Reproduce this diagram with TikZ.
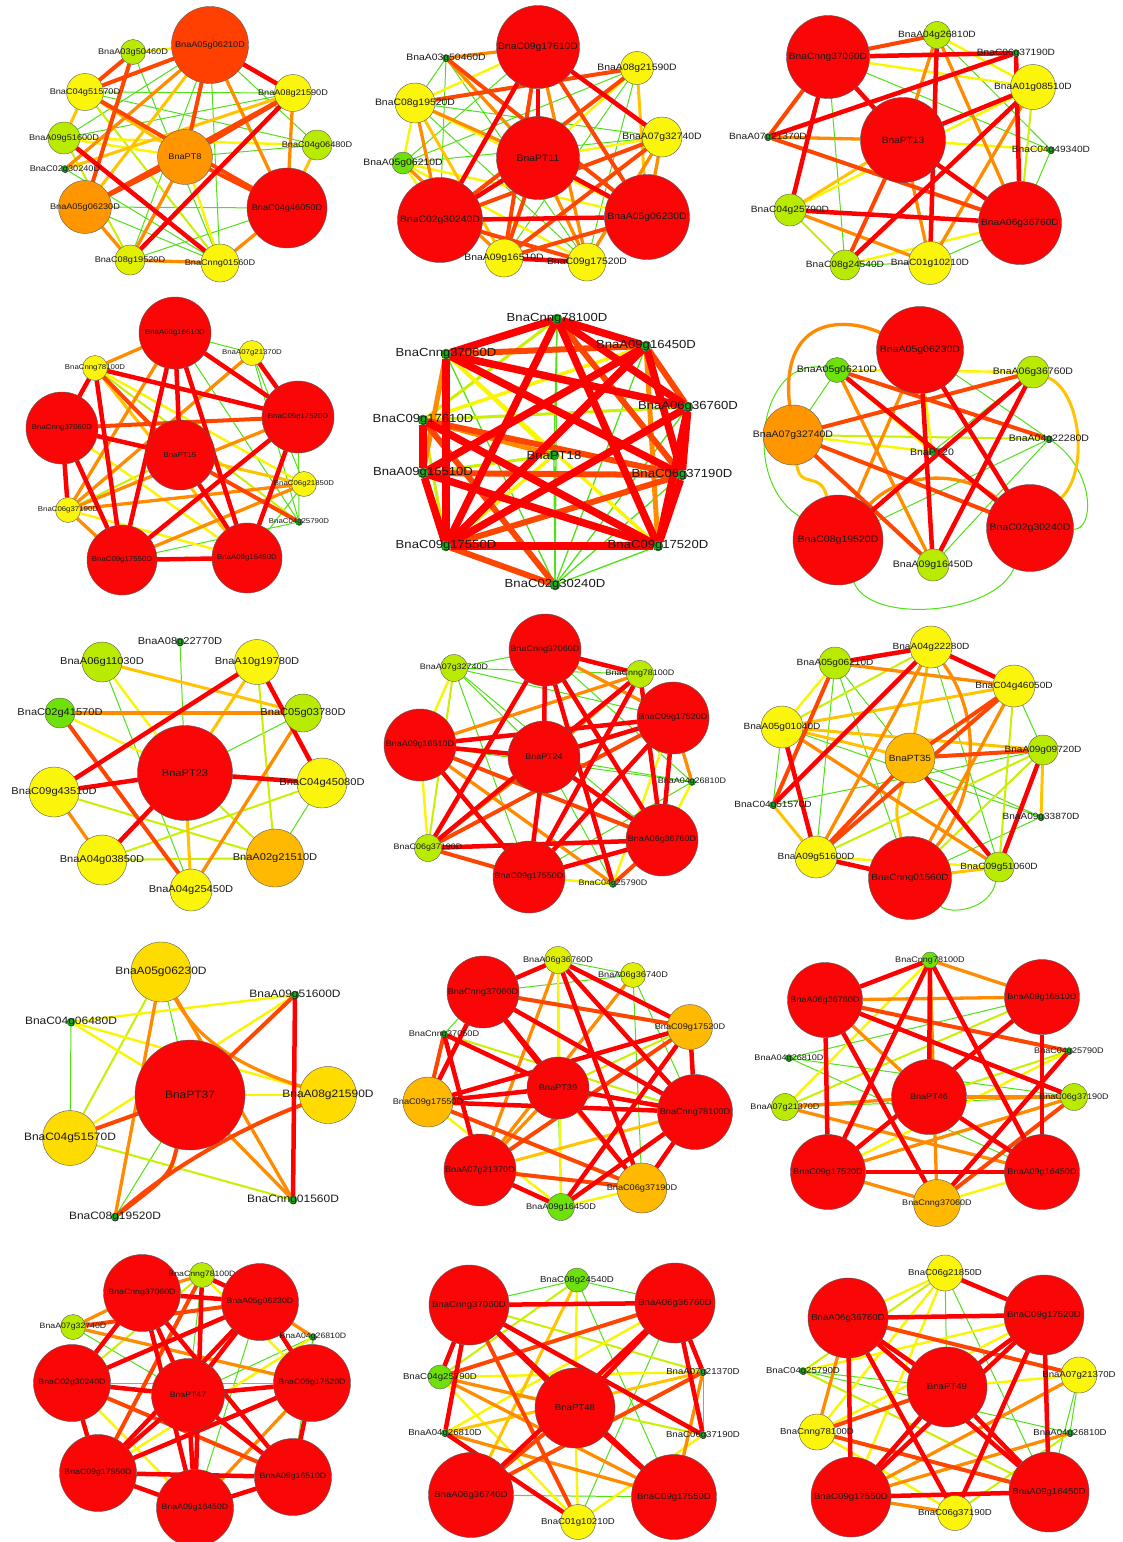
\documentclass[tikz,border=0pt]{standalone}
\usepackage{fontspec}
\setmainfont{Liberation Sans}[FakeStretch=1.12]
\pgfdeclarelayer{bg}
\pgfdeclarelayer{edges}
\pgfsetlayers{bg,edges,main}
% node colours
\definecolor{cRed}{RGB}{250,6,6}
\definecolor{cRedOr}{RGB}{255,64,0}
\definecolor{cOrange}{RGB}{255,150,0}
\definecolor{cAmber}{RGB}{255,185,0}
\definecolor{cGold}{RGB}{255,220,0}
\definecolor{cYellow}{RGB}{250,245,10}
\definecolor{cLemon}{RGB}{225,240,0}
\definecolor{cLime}{RGB}{185,235,0}
\definecolor{cGreen}{RGB}{110,225,10}
\definecolor{cDot}{RGB}{20,175,20}
% edge colours
\definecolor{eRed}{RGB}{255,0,0}
\definecolor{eOrRed}{RGB}{255,70,0}
\definecolor{eOrange}{RGB}{255,140,0}
\definecolor{eAmber}{RGB}{255,195,0}
\definecolor{eYellow}{RGB}{250,245,0}
\definecolor{eYG}{RGB}{200,240,0}
\definecolor{eGreen}{RGB}{80,225,20}
\newcommand{\lblsize}[1]{\fontsize{#1}{#1}\selectfont}
\tikzset{
  gene/.style={circle, draw=black!65, line width=0.4pt, inner sep=0pt, outer sep=0pt},
  nRed/.style={fill=cRed}, nRedOr/.style={fill=cRedOr}, nOrange/.style={fill=cOrange},
  nAmber/.style={fill=cAmber}, nGold/.style={fill=cGold}, nYellow/.style={fill=cYellow},
  nLemon/.style={fill=cLemon}, nLime/.style={fill=cLime}, nGreen/.style={fill=cGreen},
  nDot/.style={fill=cDot, draw=black!70},
  lbl/.style={inner sep=0pt, text=black!90, font=\lblsize{8}},
  er/.style={draw=eRed, line width=4.5pt},
  eorr/.style={draw=eOrRed, line width=4pt},
  eor/.style={draw=eOrange, line width=3.3pt},
  eam/.style={draw=eAmber, line width=3pt},
  ey/.style={draw=eYellow, line width=2.4pt},
  eyg/.style={draw=eYG, line width=2pt},
  eg/.style={draw=eGreen, line width=1pt},
}
\newcommand{\gene}[5]{\node[gene,#4,minimum size=#3pt] (#1) at (#2) {};
  \node[lbl] (#1t) at (#1.center) {#5};}
\newcommand{\links}[2]{\foreach \p/\q in {#2} \draw[#1] (\p) -- (\q);}

\begin{document}
\begin{tikzpicture}[x=1pt,y=-1pt]
\useasboundingbox (0,0) rectangle (1123,1542);
\begin{pgfonlayer}{bg}
\fill[white] (0,0) rectangle (1123,1542);
\end{pgfonlayer}

% BnaPT8
\begin{scope}[lbl/.append style={font=\lblsize{8.2}}]
\gene{a0}{185,157}{55}{nOrange}{BnaPT8}
\gene{a1}{210,45}{77}{nRedOr}{BnaA05g06210D}
\gene{a2}{133,52}{25}{nLime}{BnaA03g50460D}
\gene{a3}{85,92}{37}{nYellow}{BnaC04g51570D}
\gene{a4}{293,93}{37}{nYellow}{BnaA08g21590D}
\gene{a5}{64,138}{32}{nLime}{BnaA09g51600D}
\gene{a6}{317,145}{30}{nLime}{BnaC04g06480D}
\gene{a7}{65,169}{7}{nDot}{BnaC02g30240D}
\gene{a8}{85,207}{53}{nOrange}{BnaA05g06230D}
\gene{a9}{287,208}{80}{nRed}{BnaC04g46050D}
\gene{a10}{130,260}{30}{nLemon}{BnaC08g19520D}
\gene{a11}{220,263}{38}{nYellow}{BnaCnng01560D}
\begin{pgfonlayer}{edges}
\links{eg}{a1/a5, a1/a6, a1/a10, a3/a6, a2/a11, a1/a11, a10/a9, a3/a4, a8/a9, a8/a11, a5/a4, a7/a11, a0/a6}
\links{eyg}{a3/a11, a10/a5}
\links{ey}{a0/a11, a5/a6, a1/a2, a5/a0}
\links{eam}{a6/a9, a1/a8, a4/a7, a3/a5, a0/a3}
\links{eor}{a1/a9, a4/a9, a0/a10, a10/a11, a8/a10, a9/a11, a1/a7}
\links{eorr}{a1/a0, a3/a9, a4/a0, a4/a8, a1/a3, a2/a8, a0/a9, a0/a8, a2/a3}
\links{er}{a1/a4, a5/a11, a4/a10}
\end{pgfonlayer}
\end{scope}

% BnaPT11
\begin{scope}[lbl/.append style={font=\lblsize{9.3}}]
\gene{b0}{538,158}{83}{nRed}{BnaPT11}
\gene{b1}{538,47}{83}{nRed}{BnaC09g17610D}
\gene{b2}{446,58}{7}{nDot}{BnaA03g50460D}
\gene{b3}{637,68}{33}{nYellow}{BnaA08g21590D}
\gene{b4}{415,103}{40}{nYellow}{BnaC08g19520D}
\gene{b5}{662,137}{40}{nYellow}{BnaA07g32740D}
\gene{b6}{403,163}{22}{nGreen}{BnaA05g06210D}
\gene{b7}{440,220}{85}{nRed}{BnaC02g30240D}
\gene{b8}{647,217}{85}{nRed}{BnaA05g06230D}
\gene{b9}{504,258}{38}{nYellow}{BnaA09g16510D}
\gene{b10}{587,262}{38}{nYellow}{BnaC09g17520D}
\begin{pgfonlayer}{edges}
\links{eg}{b2/b7, b2/b10, b4/b10, b6/b3, b3/b9, b3/b10, b4/b5, b2/b4, b1/b6, b5/b6}
\links{ey}{b4/b1, b4/b6, b6/b7, b5/b0, b6/b8, b3/b0, b4/b8, b6/b10}
\links{eam}{b3/b8, b4/b9}
\links{eor}{b2/b0, b2/b1, b5/b10, b5/b8, b4/b0, b1/b10, b0/b10, b4/b7, b6/b9}
\links{eorr}{b1/b8, b3/b7, b3/b4, b2/b8, b5/b7, b5/b9, b7/b10, b8/b9, b0/b9, b1/b9}
\links{er}{b7/b8, b9/b10, b1/b7, b1/b5, b0/b7, b0/b8, b1/b0}
\end{pgfonlayer}
\end{scope}

% BnaPT13
\begin{scope}[lbl/.append style={font=\lblsize{9.1}}]
\gene{c0}{903,140}{85}{nRed}{BnaPT13}
\gene{c1}{828,57}{83}{nRed}{BnaCnng37060D}
\gene{c2}{937,35}{27}{nLime}{BnaA04g26810D}
\gene{c3}{1016,53}{7}{nDot}{BnaC06g37190D}
\gene{c4}{1033,87}{45}{nYellow}{BnaA01g08510D}
\gene{c5}{768,137}{7}{nDot}{BnaA07g21370D}
\gene{c6}{1051,150}{7}{nDot}{BnaC04g49340D}
\gene{c7}{790,210}{32}{nLime}{BnaC04g25790D}
\gene{c8}{1020,223}{83}{nRed}{BnaA06g36760D}
\gene{c9}{845,265}{30}{nLime}{BnaC08g24540D}
\gene{c10}{930,263}{43}{nYellow}{BnaC01g10210D}
\begin{pgfonlayer}{edges}
\links{eg}{c1/c6, c2/c6, c6/c8, c1/c9, c9/c10, c10/c8}
\links{eyg}{c7/c9, c4/c8}
\links{ey}{c6/c0, c1/c4, c2/c4, c4/c7, c9/c8}
\links{eam}{c7/c0}
\links{eor}{c5/c0, c7/c10, c4/c10, c2/c8, c2/c0, c0/c10}
\links{eorr}{c1/c2, c5/c1, c5/c8, c0/c9}
\links{er}{c1/c3, c3/c8, c5/c3, c1/c7, c1/c0, c7/c8, c4/c0, c4/c9, c2/c10, c0/c8}
\end{pgfonlayer}
\end{scope}

% BnaPT15
\begin{scope}[lbl/.append style={font=\lblsize{7}}]
\gene{d0}{180,455}{70}{nRed}{BnaPT15}
\gene{d1}{175,333}{72}{nRed}{BnaA09g16510D}
\gene{d2}{252,353}{25}{nYellow}{BnaA07g21370D}
\gene{d3}{95,368}{25}{nYellow}{BnaCnng78100D}
\gene{d4}{62,428}{72}{nRed}{BnaCnng37060D}
\gene{d5}{298,417}{72}{nRed}{BnaC09g17520D}
\gene{d6}{304,484}{25}{nYellow}{BnaC06g21850D}
\gene{d7}{68,510}{25}{nYellow}{BnaC06g37190D}
\gene{d8}{299,522}{7}{nDot}{BnaC04g25790D}
\gene{d9}{122,560}{70}{nRed}{BnaC09g17550D}
\gene{d10}{247,558}{70}{nRed}{BnaA09g16450D}
\begin{pgfonlayer}{edges}
\links{eg}{d1/d2, d2/d8, d1/d8, d5/d8, d9/d8, d6/d10, d2/d6}
\links{eyg}{d3/d8, d7/d0}
\links{ey}{d3/d6, d4/d10, d7/d10, d0/d6}
\links{eam}{d4/d6, d3/d10}
\links{eor}{d3/d1, d7/d5, d7/d2, d7/d6, d7/d1, d9/d6, d7/d9}
\links{eorr}{d0/d8, d3/d0, d4/d5}
\links{er}{d9/d10, d9/d5, d3/d5, d1/d5, d4/d7, d4/d9, d3/d9, d1/d0, d1/d9, d0/d4, d0/d10, d5/d10, d2/d5, d1/d10, d4/d3}
\end{pgfonlayer}
\end{scope}

% BnaPT18
\begin{scope}[lbl/.append style={font=\lblsize{11.7}},
  er/.style={draw=eRed, line width=7.5pt}, eorr/.style={draw=eOrRed, line width=6pt},
  eor/.style={draw=eOrange, line width=5pt}, ey/.style={draw=eYellow, line width=3.5pt},
  eyg/.style={draw=eYG, line width=3pt}, eg/.style={draw=eGreen, line width=1.3pt}]
\gene{e0}{554,455}{10}{nDot}{BnaPT18}
\gene{e1}{557,319}{10}{nDot}{BnaCnng78100D}
\gene{e2}{646,346}{10}{nDot}{BnaA09g16450D}
\gene{e3}{446,354}{10}{nDot}{BnaCnng37060D}
\gene{e4}{688,407}{10}{nDot}{BnaA06g36760D}
\gene{e5}{423,420}{10}{nDot}{BnaC09g17610D}
\gene{e6}{423,473}{10}{nDot}{BnaA09g16510D}
\gene{e7}{682,475}{10}{nDot}{BnaC06g37190D}
\gene{e8}{446,546}{10}{nDot}{BnaC09g17550D}
\gene{e9}{658,546}{10}{nDot}{BnaC09g17520D}
\gene{e10}{555,585}{10}{nDot}{BnaC02g30240D}
\begin{pgfonlayer}{edges}
\links{eg}{e1/e10, e0/e10, e3/e10, e4/e10, e7/e10, e2/e10, e9/e10, e1/e0}
\links{eyg}{e1/e5, e5/e4, e6/e0, e5/e8}
\links{ey}{e3/e9, e0/e8, e3/e0, e2/e5}
\links{eor}{e5/e0, e3/e6, e2/e9}
\links{eorr}{e2/e4, e7/e8, e8/e10, e5/e10, e6/e7, e3/e2, e1/e7, e5/e7}
\links{er}{e1/e3, e1/e2, e1/e8, e1/e4, e1/e9, e2/e8, e2/e6, e3/e4, e3/e8, e4/e7, e4/e8, e4/e9, e7/e9, e8/e9, e6/e8, e5/e9, e6/e9, e2/e7, e3/e7, e5/e6}
\end{pgfonlayer}
\end{scope}

% BnaPT20
\begin{scope}[lbl/.append style={font=\lblsize{9.4}}]
\gene{f0}{932,452}{7}{nDot}{BnaPT20}
\gene{f1}{920,350}{87}{nRed}{BnaA05g06230D}
\gene{f2}{837,370}{25}{nGreen}{BnaA05g06210D}
\gene{f3}{1033,372}{32}{nLime}{BnaA06g36760D}
\gene{f4}{793,435}{60}{nOrange}{BnaA07g32740D}
\gene{f5}{1049,439}{7}{nDot}{BnaA04g22280D}
\gene{f6}{838,540}{90}{nRed}{BnaC08g19520D}
\gene{f7}{1030,528}{87}{nRed}{BnaC02g30240D}
\gene{f8}{933,565}{32}{nLime}{BnaA09g16450D}
\begin{pgfonlayer}{edges}
\links{eg}{f3/f4, f3/f0, f5/f8, f1/f5, f2/f4, f5/f6}
\draw[eg] (f2) .. controls (760,355) and (740,480) .. (f6);
\draw[eg] (f5) .. controls (1095,470) and (1095,530) .. (f7);
\draw[eg] (f6) .. controls (870,625) and (995,615) .. (f7);
\links{eyg}{f4/f5, f6/f3}
\links{ey}{f2/f0, f1/f0, f2/f3, f2/f8, f4/f0}
\draw[eam] (f3) .. controls (1080,390) and (1090,470) .. (f7);
\draw[eam] (f4) .. controls (800,490) and (820,470) .. (f6);
\links{eor}{f1/f6, f2/f8}
\draw[eor] (f4) .. controls (780,320) and (840,315) .. (f1);
\draw[eor] (f6) .. controls (900,470) and (965,470) .. (f7);
\links{eorr}{f4/f7, f4/f3, f2/f5, f4/f8}
\links{er}{f1/f8, f3/f8, f3/f6, f1/f7, f2/f7}
\end{pgfonlayer}
\end{scope}

% BnaPT23
\begin{scope}[lbl/.append style={font=\lblsize{9.9}}]
\gene{g0}{185,773}{95}{nRed}{BnaPT23}
\gene{g1}{180,642}{8}{nDot}{BnaA08g22770D}
\gene{g2}{102,662}{40}{nLime}{BnaA06g11030D}
\gene{g3}{257,662}{45}{nYellow}{BnaA10g19780D}
\gene{g4}{60,713}{30}{nGreen}{BnaC02g41570D}
\gene{g5}{303,713}{38}{nLime}{BnaC05g03780D}
\gene{g6}{54,792}{50}{nYellow}{BnaC09g43510D}
\gene{g7}{322,783}{50}{nYellow}{BnaC04g45080D}
\gene{g8}{102,860}{50}{nYellow}{BnaA04g03850D}
\gene{g9}{275,858}{58}{nAmber}{BnaA02g21510D}
\gene{g10}{191,890}{42}{nYellow}{BnaA04g25450D}
\begin{pgfonlayer}{edges}
\links{eg}{g1/g0, g5/g0, g7/g9, g2/g10}
\links{eyg}{g3/g9, g6/g9, g7/g0, g7/g8, g8/g9, g0/g9}
\links{ey}{g4/g0, g2/g0}
\links{eam}{g2/g5, g3/g0, g0/g10}
\links{eor}{g4/g5, g5/g10, g6/g8}
\links{eorr}{g4/g10}
\links{er}{g3/g6, g3/g7, g6/g0, g0/g7, g8/g0}
\end{pgfonlayer}
\end{scope}

% BnaPT24
\begin{scope}[lbl/.append style={font=\lblsize{8}}]
\gene{h0}{544,757}{72}{nRed}{BnaPT24}
\gene{h1}{545,650}{72}{nRed}{BnaCnng37060D}
\gene{h2}{454,668}{27}{nLime}{BnaA07g32740D}
\gene{h3}{640,674}{27}{nLime}{BnaCnng78100D}
\gene{h4}{673,718}{72}{nRed}{BnaC09g17520D}
\gene{h5}{420,745}{72}{nRed}{BnaA09g16510D}
\gene{h6}{692,782}{7}{nDot}{BnaA04g26810D}
\gene{h7}{428,848}{27}{nLime}{BnaC06g37190D}
\gene{h8}{662,840}{72}{nRed}{BnaA06g36760D}
\gene{h9}{529,877}{72}{nRed}{BnaC09g17550D}
\gene{h10}{613,884}{7}{nDot}{BnaC04g25790D}
\begin{pgfonlayer}{edges}
\links{eg}{h2/h1, h2/h3, h2/h4, h2/h0, h2/h9, h2/h8, h6/h0, h6/h5, h6/h9, h10/h0, h1/h6}
\links{eyg}{h2/h7}
\links{ey}{h2/h5, h4/h10, h9/h10, h7/h5, h6/h8}
\links{eor}{h1/h4, h5/h3, h7/h0, h4/h6, h3/h0, h5/h10}
\links{eorr}{h7/h4, h7/h9, h8/h10, h5/h8}
\links{er}{h1/h3, h1/h8, h1/h7, h1/h10, h5/h4, h5/h0, h5/h9, h7/h3, h7/h8, h4/h9, h4/h8, h4/h0, h9/h8, h9/h0, h8/h0, h8/h3, h1/h0, h3/h9}
\end{pgfonlayer}
\end{scope}

% BnaPT35
\begin{scope}[lbl/.append style={font=\lblsize{9}}]
\gene{i0}{910,758}{50}{nAmber}{BnaPT35}
\gene{i1}{931,647}{42}{nYellow}{BnaA04g22280D}
\gene{i2}{835,663}{32}{nLime}{BnaA05g06210D}
\gene{i3}{1014,686}{42}{nYellow}{BnaC04g46050D}
\gene{i4}{782,727}{42}{nYellow}{BnaA05g01040D}
\gene{i5}{1043,750}{30}{nLime}{BnaA09g09720D}
\gene{i6}{773,805}{7}{nDot}{BnaC04g51570D}
\gene{i7}{1041,817}{7}{nDot}{BnaA09g33870D}
\gene{i8}{816,857}{42}{nYellow}{BnaA09g51600D}
\gene{i9}{910,878}{83}{nRed}{BnaCnng01560D}
\gene{i10}{999,867}{30}{nLime}{BnaC09g51060D}
\begin{pgfonlayer}{edges}
\links{eg}{i1/i10, i2/i8, i2/i0, i3/i5, i4/i6, i4/i7, i5/i6, i0/i7, i9/i7, i2/i9}
\draw[eg] (i10) .. controls (990,910) and (950,915) .. (i9);
\links{eyg}{i1/i4, i3/i10, i5/i8, i5/i9}
\links{ey}{i8/i10, i2/i4}
\links{eam}{i1/i0, i3/i4, i4/i5, i4/i0, i5/i7, i8/i6, i9/i10}
\draw[eam] (i0) .. controls (895,810) .. (i9);
\links{eor}{i2/i3, i3/i9, i4/i10, i1/i8}
\draw[eor] (i1) .. controls (985,720) and (975,800) .. (i9);
\links{eorr}{i2/i6, i3/i8, i3/i0, i5/i0, i8/i0}
\links{er}{i1/i2, i1/i3, i1/i6, i4/i8, i5/i10, i8/i9, i0/i10}
\end{pgfonlayer}
\end{scope}

% BnaPT37
\begin{scope}[lbl/.append style={font=\lblsize{10.7}}]
\gene{j0}{190,1095}{110}{nRed}{BnaPT37}
\gene{j1}{161,972}{60}{nGold}{BnaA05g06230D}
\gene{j2}{295,995}{8}{nDot}{BnaA09g51600D}
\gene{j3}{71,1022}{8}{nDot}{BnaC04g06480D}
\gene{j4}{328,1095}{57}{nGold}{BnaA08g21590D}
\gene{j5}{70,1138}{55}{nGold}{BnaC04g51570D}
\gene{j6}{293,1200}{8}{nDot}{BnaCnng01560D}
\gene{j7}{115,1217}{8}{nDot}{BnaC08g19520D}
\begin{pgfonlayer}{edges}
\links{eg}{j1/j0, j3/j5, j7/j0}
\links{eyg}{j1/j5, j5/j6}
\links{ey}{j2/j3, j2/j5, j3/j0, j3/j4, j0/j4}
\links{eor}{j1/j7, j1/j6, j0/j6}
\draw[eor] (j1) .. controls (200,1045) and (250,1070) .. (j4);
\links{eorr}{j2/j0, j5/j0}
\draw[eorr] (j0) .. controls (170,1175) .. (j7);
\draw[eorr] (j4) .. controls (235,1130) and (160,1175) .. (j7);
\links{er}{j2/j6}
\end{pgfonlayer}
\end{scope}

% BnaPT39
\begin{scope}[lbl/.append style={font=\lblsize{8.2}}]
\gene{k0}{558,1088}{62}{nRed}{BnaPT39}
\gene{k1}{558,960}{27}{nLemon}{BnaA06g36760D}
\gene{k2}{633,975}{25}{nLemon}{BnaA06g36740D}
\gene{k3}{483,992}{72}{nRed}{BnaCnng37060D}
\gene{k4}{690,1027}{45}{nAmber}{BnaC09g17520D}
\gene{k5}{444,1034}{7}{nDot}{BnaCnng37050D}
\gene{k6}{428,1102}{50}{nAmber}{BnaC09g17550D}
\gene{k7}{695,1112}{75}{nRed}{BnaCnng78100D}
\gene{k8}{480,1170}{72}{nRed}{BnaA07g21370D}
\gene{k9}{642,1188}{50}{nAmber}{BnaC06g37190D}
\gene{k10}{561,1207}{27}{nGreen}{BnaA09g16450D}
\begin{pgfonlayer}{edges}
\links{eg}{k2/k3, k0/k10, k2/k9, k2/k7, k1/k2, k3/k5}
\links{eyg}{k4/k0, k5/k7}
\links{ey}{k1/k0, k6/k10, k9/k10, k1/k10}
\links{eam}{k7/k8}
\links{eor}{k1/k8, k2/k8, k0/k9, k0/k8}
\links{eorr}{k3/k4, k5/k6, k6/k9, k8/k9, k4/k8}
\links{er}{k1/k3, k1/k4, k1/k7, k1/k9, k3/k0, k3/k7, k3/k6, k4/k6, k4/k10, k4/k7, k5/k0, k5/k8, k6/k0, k6/k7, k0/k7, k7/k10, k7/k9, k8/k10, k3/k9}
\end{pgfonlayer}
\end{scope}

% BnaPT46
\begin{scope}[lbl/.append style={font=\lblsize{8.1}}]
\gene{l0}{929,1097}{75}{nRed}{BnaPT46}
\gene{l1}{930,960}{16}{nGreen}{BnaCnng78100D}
\gene{l2}{825,1000}{75}{nRed}{BnaA06g36760D}
\gene{l3}{1042,997}{75}{nRed}{BnaA09g16510D}
\gene{l4}{789,1058}{7}{nDot}{BnaA04g26810D}
\gene{l5}{1069,1051}{7}{nDot}{BnaC04g25790D}
\gene{l6}{785,1107}{27}{nLime}{BnaA07g21370D}
\gene{l7}{1074,1097}{27}{nLime}{BnaC06g37190D}
\gene{l8}{828,1172}{75}{nRed}{BnaC09g17520D}
\gene{l9}{1042,1172}{75}{nRed}{BnaA09g16450D}
\gene{l10}{937,1203}{47}{nAmber}{BnaCnng37060D}
\begin{pgfonlayer}{edges}
\links{eg}{l3/l4, l4/l7, l4/l9, l6/l7}
\links{eyg}{l3/l6, l5/l0}
\links{ey}{l1/l6, l8/l5, l9/l10}
\links{eor}{l1/l3, l1/l10, l2/l3, l2/l0, l0/l7, l0/l6, l8/l10, l8/l7, l6/l9}
\links{eorr}{l2/l5, l10/l7}
\links{er}{l1/l2, l1/l0, l1/l8, l1/l9, l2/l7, l2/l8, l2/l10, l3/l8, l3/l9, l0/l9, l8/l9, l10/l5}
\end{pgfonlayer}
\end{scope}

% BnaPT47
\begin{scope}[lbl/.append style={font=\lblsize{7.8}}]
\gene{m0}{188,1395}{73}{nRed}{BnaPT47}
\gene{m1}{142,1293}{77}{nRed}{BnaCnng37060D}
\gene{m2}{202,1275}{25}{nLime}{BnaCnng78100D}
\gene{m3}{260,1302}{77}{nRed}{BnaA05g06230D}
\gene{m4}{73,1327}{25}{nLime}{BnaA07g32740D}
\gene{m5}{313,1337}{7}{nDot}{BnaA04g26810D}
\gene{m6}{72,1383}{77}{nRed}{BnaC02g30240D}
\gene{m7}{312,1383}{77}{nRed}{BnaC09g17520D}
\gene{m8}{98,1473}{77}{nRed}{BnaC09g17550D}
\gene{m9}{293,1477}{77}{nRed}{BnaA09g16510D}
\gene{m10}{195,1508}{77}{nRed}{BnaA09g16450D}
\begin{pgfonlayer}{edges}
\links{eg}{m5/m9, m5/m0, m4/m0, m5/m7, m2/m0, m6/m7, m6/m9, m3/m10}
\links{eyg}{m8/m6, m2/m6}
\links{ey}{m2/m7, m6/m10, m5/m8}
\links{eor}{m4/m7, m4/m1, m5/m3, m7/m10, m2/m1}
\links{eorr}{m4/m3, m2/m8, m6/m9}
\links{er}{m1/m3, m1/m0, m1/m6, m1/m10, m1/m9, m3/m7, m3/m0, m3/m8, m3/m6, m6/m8, m6/m0, m7/m9, m7/m8, m7/m0, m8/m10, m8/m9, m9/m10, m0/m8, m0/m9, m0/m10, m2/m10, m2/m3}
\end{pgfonlayer}
\end{scope}

% BnaPT48
\begin{scope}[lbl/.append style={font=\lblsize{8.6}}]
\gene{n0}{575,1408}{80}{nRed}{BnaPT48}
\gene{n1}{577,1280}{24}{nGreen}{BnaC08g24540D}
\gene{n2}{469,1305}{80}{nRed}{BnaCnng37060D}
\gene{n3}{675,1303}{80}{nRed}{BnaA06g36760D}
\gene{n4}{440,1377}{24}{nGreen}{BnaC04g25790D}
\gene{n5}{703,1372}{7}{nDot}{BnaA07g21370D}
\gene{n6}{445,1433}{7}{nDot}{BnaA04g26810D}
\gene{n7}{703,1435}{7}{nDot}{BnaC06g37190D}
\gene{n8}{471,1495}{85}{nRed}{BnaA06g36740D}
\gene{n9}{674,1497}{85}{nRed}{BnaC09g17550D}
\gene{n10}{578,1522}{35}{nYellow}{BnaC01g10210D}
\begin{pgfonlayer}{edges}
\links{eg}{n1/n2, n1/n3, n1/n9, n8/n9, n5/n7, n3/n10}
\links{eyg}{n1/n4, n2/n5, n4/n7}
\links{ey}{n1/n0, n4/n10, n0/n10, n7/n10, n6/n3, n4/n5}
\links{eam}{n1/n8, n5/n6}
\links{eor}{n4/n0, n6/n9, n5/n9, n4/n9}
\links{eorr}{n3/n4, n5/n8, n8/n0, n2/n10}
\links{er}{n2/n3, n2/n0, n2/n4, n2/n6, n2/n7, n3/n5, n3/n7, n3/n0, n0/n9, n6/n10, n2/n9, n3/n8}
\end{pgfonlayer}
\end{scope}

% BnaPT49
\begin{scope}[lbl/.append style={font=\lblsize{8.6}}]
\gene{o0}{947,1387}{80}{nRed}{BnaPT49}
\gene{o1}{945,1273}{36}{nYellow}{BnaC06g21850D}
\gene{o2}{848,1318}{80}{nRed}{BnaA06g36760D}
\gene{o3}{1044,1315}{80}{nRed}{BnaC09g17520D}
\gene{o4}{803,1371}{7}{nDot}{BnaC04g25790D}
\gene{o5}{1079,1375}{36}{nYellow}{BnaA07g21370D}
\gene{o6}{817,1432}{36}{nYellow}{BnaCnng78100D}
\gene{o7}{1070,1433}{7}{nDot}{BnaA04g26810D}
\gene{o8}{851,1497}{80}{nRed}{BnaC09g17550D}
\gene{o9}{1049,1492}{80}{nRed}{BnaA09g16450D}
\gene{o10}{955,1513}{35}{nYellow}{BnaC06g37190D}
\begin{pgfonlayer}{edges}
\links{eg}{o4/o0, o4/o7, o6/o10, o5/o9, o1/o0, o1/o9, o5/o7}
\links{eyg}{o1/o4, o7/o10, o4/o9}
\links{ey}{o1/o2, o1/o8, o1/o6, o5/o0, o10/o6, o4/o3, o3/o6}
\links{eor}{o2/o6, o7/o8, o5/o8, o10/o8}
\links{eorr}{o6/o9, o2/o5, o6/o0}
\links{er}{o2/o3, o1/o3, o2/o0, o2/o8, o2/o9, o3/o0, o3/o8, o3/o9, o8/o9, o0/o8, o0/o9, o2/o10, o3/o10}
\end{pgfonlayer}
\end{scope}
\end{tikzpicture}
\end{document}
